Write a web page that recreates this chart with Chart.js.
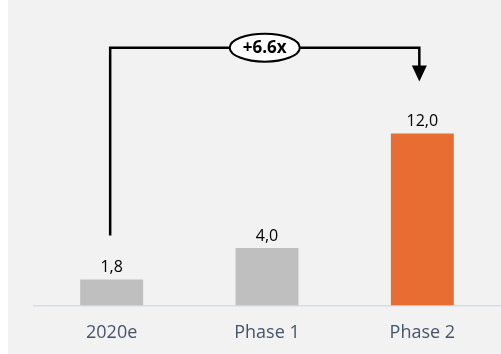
<!DOCTYPE html>
<html>
<head>
<meta charset="utf-8">
<script src="https://cdn.jsdelivr.net/npm/chart.js@4.4.0/dist/chart.umd.min.js"></script>
<style>
  body { margin: 0; background: #ffffff; }
  #wrap { position: absolute; left: 8px; top: 0; width: 493px; height: 354px; background: #f2f2f2; }
</style>
</head>
<body>
<div id="wrap"><canvas id="chart"></canvas></div>
<script>
var categories = ['2020e', 'Phase 1', 'Phase 2'];
var values = [1.8, 4.0, 12.0];
var barColors = ['#bfbfbf', '#bfbfbf', '#e86d33'];
var growthLabel = '+6.6x';
var bracketLevel = 18;

// value labels above each bar, decimal comma
var barLabels = {
    id: 'barLabels',
    afterDatasetsDraw: function (chart) {
        var ctx = chart.ctx;
        var meta = chart.getDatasetMeta(0);
        ctx.save();
        ctx.font = '16px "Open Sans"';
        ctx.fillStyle = '#000000';
        ctx.textAlign = 'center';
        ctx.textBaseline = 'middle';
        meta.data.forEach(function (bar, i) {
            ctx.fillText(values[i].toFixed(1).replace('.', ','), bar.x, bar.y - 12);
        });
        ctx.restore();
    }
};

// bracket from first bar to last bar with growth bubble
var growthBracket = {
    id: 'growthBracket',
    afterDatasetsDraw: function (chart) {
        var ctx = chart.ctx;
        var meta = chart.getDatasetMeta(0);
        var first = meta.data[0];
        var last = meta.data[meta.data.length - 1];
        var yTop = chart.scales.y.getPixelForValue(bracketLevel);
        var x1 = first.x - 1.5;
        var x2 = last.x - 3;
        var yStart = first.y - 44;
        var tip = last.y - 52;

        ctx.save();
        ctx.strokeStyle = '#000000';
        ctx.lineWidth = 2.5;
        ctx.beginPath();
        ctx.moveTo(x1, yStart);
        ctx.lineTo(x1, yTop);
        ctx.lineTo(x2, yTop);
        ctx.lineTo(x2, tip - 14);
        ctx.stroke();

        ctx.fillStyle = '#000000';
        ctx.beginPath();
        ctx.moveTo(x2 - 7.5, tip - 16);
        ctx.lineTo(x2 + 7.5, tip - 16);
        ctx.lineTo(x2, tip);
        ctx.closePath();
        ctx.fill();

        var cx = (x1 + x2) / 2;
        ctx.beginPath();
        ctx.ellipse(cx, yTop, 35, 14, 0, 0, Math.PI * 2);
        ctx.fillStyle = '#ffffff';
        ctx.fill();
        ctx.lineWidth = 2;
        ctx.stroke();

        ctx.fillStyle = '#000000';
        ctx.font = 'bold 17px "Open Sans"';
        ctx.textAlign = 'center';
        ctx.textBaseline = 'middle';
        ctx.fillText(growthLabel, cx, yTop + 1);
        ctx.restore();
    }
};

new Chart(document.getElementById('chart'), {
    type: 'bar',
    data: {
        labels: categories,
        datasets: [{
            data: values,
            backgroundColor: barColors,
            categoryPercentage: 1,
            barPercentage: 0.405
        }]
    },
    options: {
        responsive: true,
        maintainAspectRatio: false,
        animation: false,
        layout: { padding: { top: 19, left: 26, right: 1, bottom: -7 } },
        plugins: {
            legend: { display: false },
            tooltip: { enabled: false }
        },
        scales: {
            x: {
                grid: { display: false, drawTicks: false },
                border: { display: true, color: '#d6dce4', width: 1.5 },
                ticks: {
                    color: '#44546a',
                    font: { family: 'Open Sans', size: 18 },
                    padding: 17
                }
            },
            y: {
                display: false,
                min: 0,
                max: 20
            }
        }
    },
    plugins: [barLabels, growthBracket]
});
</script>
</body>
</html>
